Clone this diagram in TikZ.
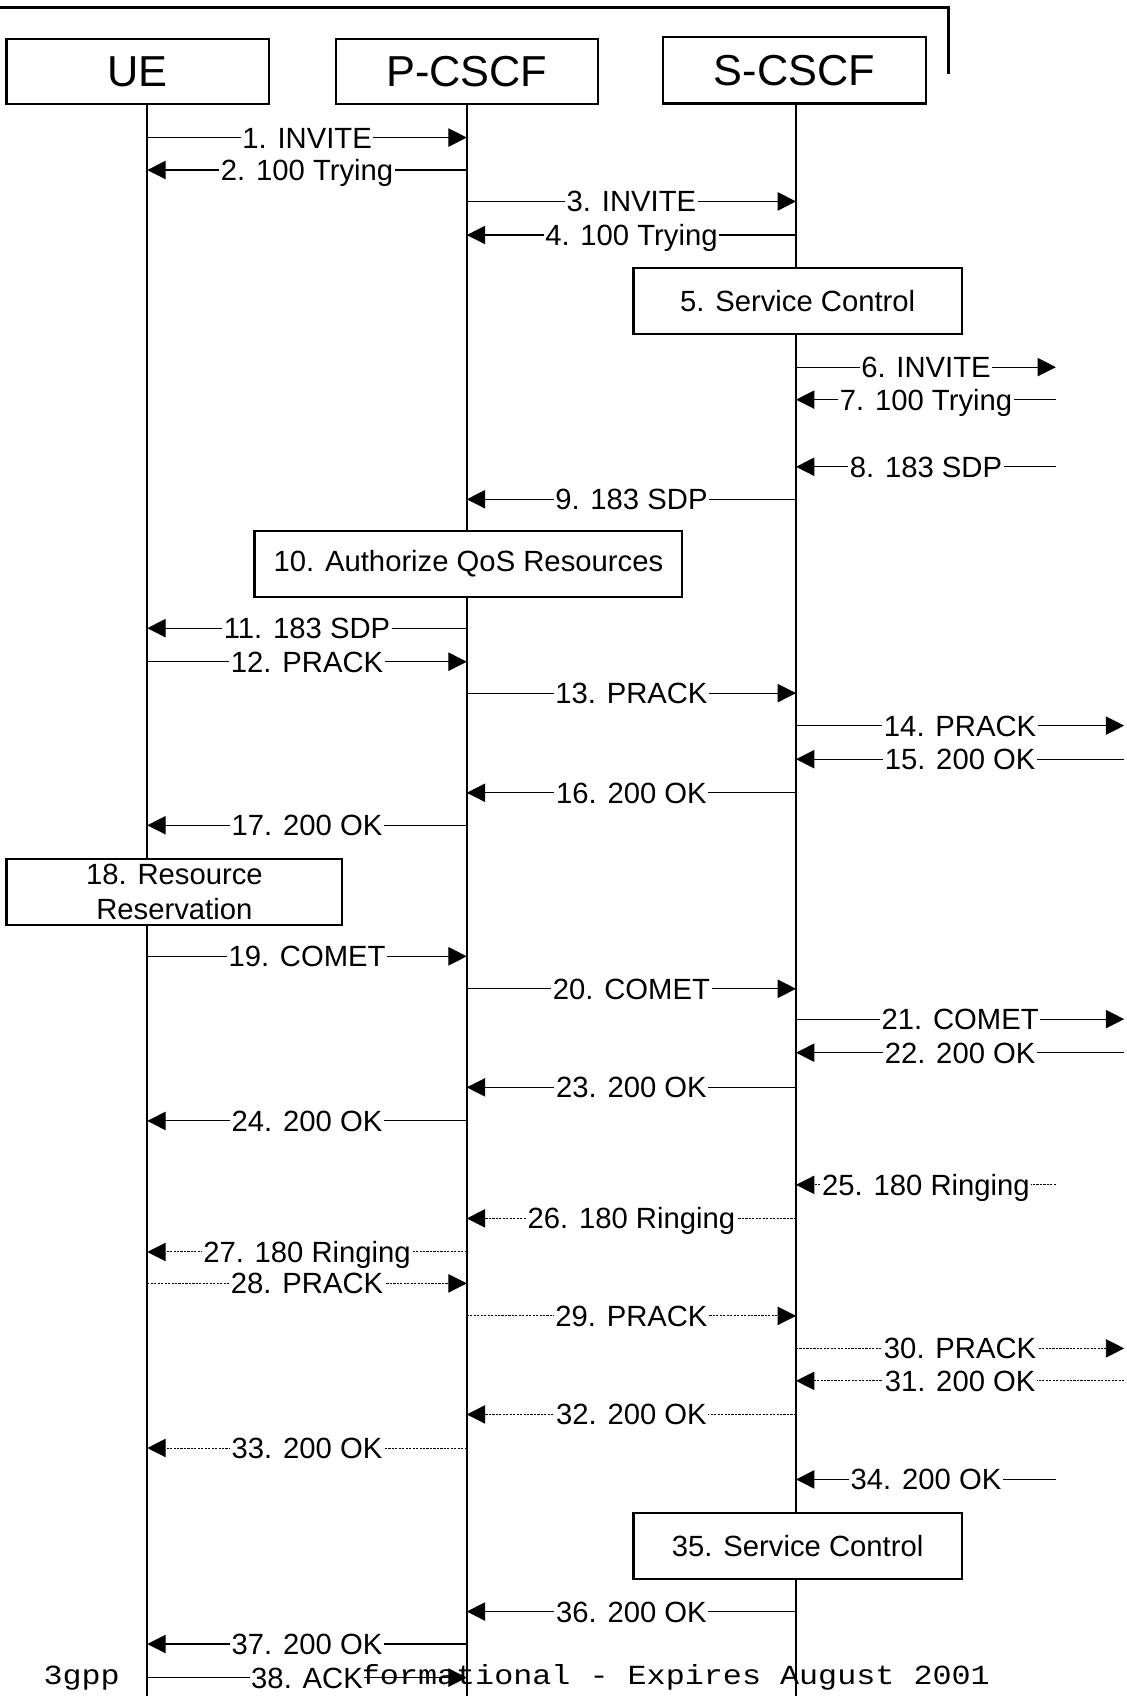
\documentclass[tikz,border=0pt]{standalone}
\usepackage{fontspec}
\setmainfont{Liberation Sans}
\newfontfamily\footmono{Liberation Mono}
\usetikzlibrary{arrows.meta}
\newcommand\lblfont{\fontsize{27}{32}\selectfont}
\newcommand\msg[6]{%
  \coordinate (#1a) at (#3,#2);
  \coordinate (#1b) at (#4,#2);
  \draw[msgline,#6] (#1a) -- node[lbl]{#5} (#1b);}
\tikzset{
  lifeline/.style={line width=2pt},
  actor/.style={draw, line width=2pt, fill=white, minimum height=60pt, inner sep=0pt,
    font=\fontsize{40}{44}\selectfont},
  procbox/.style={draw, line width=2pt, fill=white, inner sep=0pt, align=center,
    font=\lblfont, minimum height=61pt},
  msgline/.style={line width=1pt, -{Triangle[length=17pt,width=17pt]}},
  solidline/.style={},
  dots/.style={dash pattern=on 2pt off 1.2pt, line width=0.9pt},
  lbl/.style={fill=white, inner xsep=1.5pt, inner ysep=1pt, font=\lblfont,
    anchor=base, yshift=-9.7pt},
  foot/.style={anchor=base west, inner sep=0pt, xscale=1.15, transform shape,
    font=\footmono\fontsize{25.5}{30}\selectfont}
}
\begin{document}
\begin{tikzpicture}[x=1pt,y=-1pt]
\useasboundingbox (0,0) rectangle (1040,1566);
% footer
\node[foot] (f1) at (40,1555) {3gpp};
\node[foot] (f2) at (333,1555) {formational - Expires August 2001};
% frame
\draw[line width=2.5pt] (0,7) -- (876,7) -- (876,68);
% lifelines
\coordinate (ueTop) at (136,97);  \coordinate (ueBot) at (136,1566);
\coordinate (pcTop) at (431,97);  \coordinate (pcBot) at (431,1566);
\coordinate (scTop) at (735,96);  \coordinate (scBot) at (735,1566);
\draw[lifeline] (ueTop) -- (ueBot);
\draw[lifeline] (pcTop) -- (pcBot);
\draw[lifeline] (scTop) -- (scBot);
% actors
\node[actor, minimum width=242pt] (ue) at (127,66) {UE};
\node[actor, minimum width=242pt] (pc) at (431,66) {P-CSCF};
\node[actor, minimum width=243pt, minimum height=61pt] (sc) at (733.5,65) {S-CSCF};
% process boxes
\node[procbox, minimum width=303pt] (b5) at (736.5,278) {5. Service Control};
\node[procbox, minimum width=395pt] (b10) at (432.5,520.5) {10. Authorize QoS Resources};
\node[procbox, minimum width=310pt] (b18) at (161,823.5) {18. Resource\\Reservation};
\node[procbox, minimum width=303pt] (b35) at (736.5,1427.5) {35. Service Control};
% messages
\def\U{136}\def\P{431}\def\S{735}\def\Ea{975}\def\Eb{1038}
\msg{m1}{127}{\U}{\P}{1. INVITE}{solidline}
\msg{m2}{157}{\P}{\U}{2. 100 Trying}{solidline}
\msg{m3}{186}{\P}{\S}{3. INVITE}{solidline}
\msg{m4}{217}{\S}{\P}{4. 100 Trying}{solidline}
\msg{m6}{339}{\S}{\Ea}{6. INVITE}{solidline}
\msg{m7}{369}{\Ea}{\S}{7. 100 Trying}{solidline}
\msg{m8}{431}{\Ea}{\S}{8. 183 SDP}{solidline}
\msg{m9}{461}{\S}{\P}{9. 183 SDP}{solidline}
\msg{m11}{580}{\P}{\U}{11. 183 SDP}{solidline}
\msg{m12}{611}{\U}{\P}{12. PRACK}{solidline}
\msg{m13}{640}{\P}{\S}{13. PRACK}{solidline}
\msg{m14}{670}{\S}{\Eb}{14. PRACK}{solidline}
\msg{m15}{701}{\Eb}{\S}{15. 200 OK}{solidline}
\msg{m16}{732}{\S}{\P}{16. 200 OK}{solidline}
\msg{m17}{762}{\P}{\U}{17. 200 OK}{solidline}
\msg{m19}{883}{\U}{\P}{19. COMET}{solidline}
\msg{m20}{913}{\P}{\S}{20. COMET}{solidline}
\msg{m21}{941}{\S}{\Eb}{21. COMET}{solidline}
\msg{m22}{972}{\Eb}{\S}{22. 200 OK}{solidline}
\msg{m23}{1004}{\S}{\P}{23. 200 OK}{solidline}
\msg{m24}{1035}{\P}{\U}{24. 200 OK}{solidline}
\msg{m25}{1094}{\Ea}{\S}{25. 180 Ringing}{dots}
\msg{m26}{1125}{\S}{\P}{26. 180 Ringing}{dots}
\msg{m27}{1156}{\P}{\U}{27. 180 Ringing}{dots}
\msg{m28}{1185}{\U}{\P}{28. PRACK}{dots}
\msg{m29}{1215}{\P}{\S}{29. PRACK}{dots}
\msg{m30}{1245}{\S}{\Eb}{30. PRACK}{dots}
\msg{m31}{1275}{\Eb}{\S}{31. 200 OK}{dots}
\msg{m32}{1306}{\S}{\P}{32. 200 OK}{dots}
\msg{m33}{1337}{\P}{\U}{33. 200 OK}{dots}
\msg{m34}{1366}{\Ea}{\S}{34. 200 OK}{solidline}
\msg{m36}{1488}{\S}{\P}{36. 200 OK}{solidline}
\msg{m37}{1518}{\P}{\U}{37. 200 OK}{solidline}
\msg{m38}{1549}{\U}{\P}{38. ACK}{solidline}
\end{tikzpicture}
\end{document}
